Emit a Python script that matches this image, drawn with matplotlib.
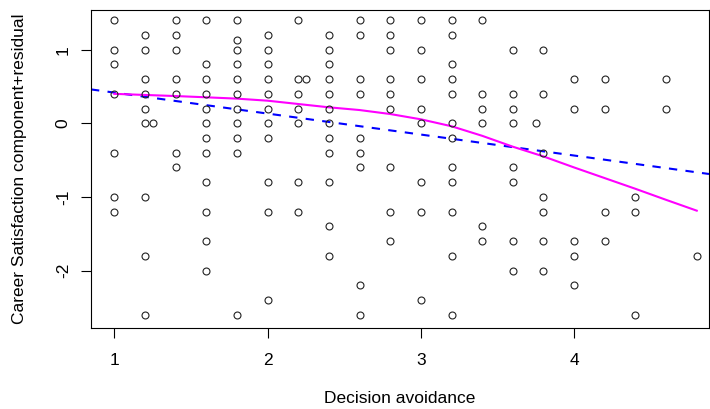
import matplotlib
matplotlib.use("Agg")
import matplotlib.pyplot as plt
import numpy as np

plt.rcParams['font.family'] = ['Liberation Sans', 'DejaVu Sans']

# Partial residual points, column by column (x value -> residuals)
column_x = [1.0, 1.2, 1.25, 1.4, 1.6, 1.8, 2.0, 2.2, 2.25, 2.4, 2.6, 2.8,
            3.0, 3.2, 3.4, 3.6, 3.75, 3.8, 4.0, 4.2, 4.4, 4.6, 4.8]
column_y = [
    [1.4, 1.0, 0.8, 0.4, -0.4, -1.0, -1.2],
    [1.2, 1.0, 0.6, 0.4, 0.2, 0.0, -1.0, -1.8, -2.6],
    [0.0],
    [1.4, 1.2, 1.0, 0.6, 0.4, -0.4, -0.6],
    [1.4, 0.8, 0.6, 0.4, 0.2, 0.0, -0.2, -0.4, -0.8, -1.2, -1.6, -2.0],
    [1.4, 1.13, 1.0, 0.8, 0.6, 0.4, 0.2, 0.0, -0.2, -0.4, -2.6],
    [1.2, 1.0, 0.8, 0.6, 0.4, 0.2, 0.0, -0.2, -0.8, -1.2, -2.4],
    [1.4, 0.6, 0.4, 0.2, 0.0, -0.8, -1.2],
    [0.6],
    [1.2, 1.0, 0.8, 0.6, 0.4, 0.2, 0.0, -0.2, -0.4, -0.8, -1.4, -1.8],
    [1.4, 1.2, 0.6, 0.4, -0.2, -0.4, -0.6, -2.2, -2.6],
    [1.4, 1.2, 1.0, 0.6, 0.4, 0.2, -0.6, -1.2, -1.6],
    [1.4, 1.0, 0.6, 0.2, 0.0, -0.8, -1.2, -2.4],
    [1.4, 1.2, 0.8, 0.6, 0.4, 0.0, -0.2, -0.6, -0.8, -1.2, -1.8, -2.6],
    [1.4, 0.4, 0.2, 0.0, -1.4, -1.6],
    [1.0, 0.4, 0.2, 0.0, -0.6, -0.8, -1.6, -2.0],
    [0.0],
    [1.0, 0.4, -0.4, -1.0, -1.2, -1.6, -2.0],
    [0.6, 0.2, -1.6, -1.8, -2.2],
    [0.6, 0.2, -1.2, -1.6],
    [-1.0, -1.2, -2.6],
    [0.6, 0.2],
    [-1.8],
]

# Smoother (magenta)
smooth_x = [1.0, 1.2, 1.4, 1.6, 1.8, 2.0, 2.2, 2.4, 2.6, 2.8, 3.0, 3.2,
            3.4, 3.6, 3.8, 4.0, 4.2, 4.4, 4.6, 4.8]
smooth_y = [0.40, 0.385, 0.37, 0.353, 0.335, 0.307, 0.262, 0.217, 0.18, 0.126,
            0.054, -0.04, -0.17, -0.318, -0.45, -0.60, -0.745, -0.89, -1.04, -1.187]

# Component line (blue dashed)
line_intercept = 0.702
line_slope = -0.285

xticks = [1, 2, 3, 4]
yticks = [-2, -1, 0, 1]
xlabel = "Decision avoidance"
ylabel = "Career Satisfaction component+residual"

px = np.concatenate([[cx] * len(cy) for cx, cy in zip(column_x, column_y)])
py = np.concatenate(column_y)

fig = plt.figure(figsize=(7.10, 4.09), dpi=100)
ax = fig.add_axes([91 / 710, 1 - 327.7 / 409, (709 - 91) / 710, (327.7 - 10.3) / 409])

xlim = (0.848, 4.88)
ylim = (-2.777, 1.535)

ax.plot(px, py, linestyle='none', marker='o', markersize=5, markerfacecolor='none',
        markeredgecolor='#222222', markeredgewidth=0.8, zorder=3)

lx = np.array(xlim)
ax.plot(lx, line_intercept + line_slope * lx, color='blue', linewidth=1.5,
        linestyle=(0, (4, 4)), zorder=2)
ax.plot(smooth_x, smooth_y, color='magenta', linewidth=1.5, zorder=2)

ax.set_xlim(*xlim)
ax.set_ylim(*ylim)
ax.set_xticks(xticks)
ax.set_yticks(yticks)
fs = 12.5
ax.set_xticklabels([str(t) for t in xticks], fontsize=fs)
ax.set_yticklabels([str(t) for t in yticks], fontsize=fs, rotation=90, va='center')
ax.tick_params(direction='out', length=7.5, width=0.8, color='black')
ax.tick_params(axis='x', pad=10.5)
ax.tick_params(axis='y', pad=7)
for s in ax.spines.values():
    s.set_linewidth(0.8)
    s.set_color('black')

ax.set_xlabel(xlabel, fontsize=fs, labelpad=17)
ax.set_ylabel(ylabel, fontsize=fs, labelpad=21)

fig.savefig("out.png", dpi=100)
